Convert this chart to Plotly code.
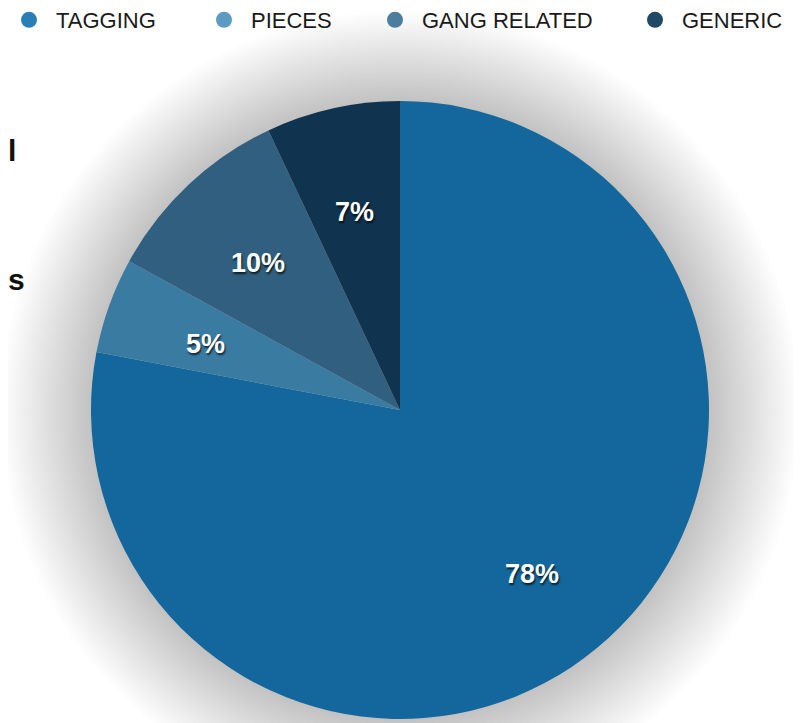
import math
import plotly.graph_objects as go

categories = ["TAGGING", "PIECES", "GANG RELATED", "GENERIC"]
values = [78, 5, 10, 7]
slice_colors = ["#13679c", "#3a7ba2", "#305f7f", "#10334f"]
legend_colors = ["#2a7eb7", "#5b9bc1", "#4c7d9c", "#1f4964"]

OFF = 8                      # page body margin
W, H = 802 - OFF, 723 - OFF  # figure size so that the page fits the window
cx, cy, R = 400, 410, 309    # pie centre / radius in page pixels

def px(x):
    return (x - OFF) / W

def py(y):
    return 1 - (y - OFF) / H

fig = go.Figure()

fig.add_trace(go.Pie(
    labels=categories,
    values=values,
    sort=False,
    direction="clockwise",
    rotation=0,
    marker=dict(colors=slice_colors, line=dict(width=0)),
    textinfo="none",
    domain=dict(x=[px(cx - R), px(cx + R)], y=[py(cy + R), py(cy - R)]),
    showlegend=False,
    hoverinfo="label+percent",
))

# percentage labels placed along each slice's bisector
total = sum(values)
annotations = []
cum = 0
for v in values:
    theta = 2 * math.pi * (cum + v / 2) / total
    cum += v
    lx = cx + 0.67 * R * math.sin(theta)
    ly = cy - 0.67 * R * math.cos(theta)
    annotations.append(dict(
        text=f"{round(100 * v / total)}%", x=px(lx), y=py(ly), yshift=-4,
        xref="paper", yref="paper", showarrow=False,
        xanchor="center", yanchor="middle",
        font=dict(family="Liberation Sans, Arial", size=27, color="white",
                  weight="bold", shadow="1px 2px 2px rgba(0,0,0,0.7)"),
    ))

# legend entries (circle markers) positioned individually
legend_px = [2, 197, 368, 628]
for i, (name, col) in enumerate(zip(categories, legend_colors)):
    lname = "legend" if i == 0 else f"legend{i+1}"
    fig.add_trace(go.Scatter(
        x=[None], y=[None], mode="markers", name=name,
        marker=dict(symbol="circle", size=18, color=col),
        showlegend=True, legend=lname, hoverinfo="skip",
    ))
    fig.update_layout(**{lname: dict(
        x=px(legend_px[i]), xref="paper", xanchor="left",
        y=py(20), yref="paper", yanchor="middle",
        orientation="h", itemwidth=44, bgcolor="rgba(0,0,0,0)",
        font=dict(family="Comic Sans MS, Liberation Sans, Arial", size=22, color="#1a1a1a"),
    )})

# soft shadow around the pie
shapes = []
n = 30
for k in range(n, 0, -1):
    r = R + k * 3
    shapes.append(dict(
        type="circle", xref="paper", yref="paper", layer="below",
        x0=px(cx - r), x1=px(cx + r), y0=py(cy + r), y1=py(cy - r),
        fillcolor="rgba(0,0,0,0.0085)", line=dict(width=0),
    ))

# text fragments at the left edge
annotations += [
    dict(text="l", x=px(6), y=py(151), xref="paper", yref="paper",
         xanchor="left", yanchor="middle", showarrow=False,
         font=dict(family="Liberation Sans, Arial", size=30, color="#111", weight="bold")),
    dict(text="s", x=px(6), y=py(279), xref="paper", yref="paper",
         xanchor="left", yanchor="middle", showarrow=False,
         font=dict(family="Liberation Sans, Arial", size=30, color="#111", weight="bold")),
]

fig.update_layout(
    width=W, height=H,
    margin=dict(l=0, r=0, t=0, b=0, autoexpand=False),
    paper_bgcolor="white", plot_bgcolor="rgba(0,0,0,0)",
    xaxis=dict(visible=False, domain=[0, 1]),
    yaxis=dict(visible=False, domain=[0, 1]),
    shapes=shapes,
    annotations=annotations,
)

fig.write_html("out.html")
